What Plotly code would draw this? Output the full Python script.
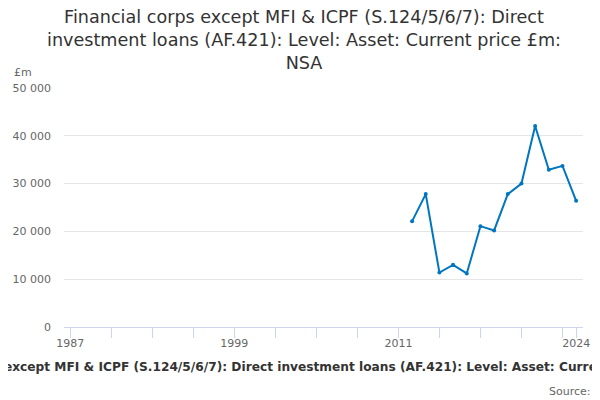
import plotly.graph_objects as go

# Annual values, £m
years = [2012, 2013, 2014, 2015, 2016, 2017, 2018, 2019, 2020, 2021, 2022, 2023, 2024]
values = [22100, 27800, 11400, 13000, 11200, 21100, 20200, 27800, 30000, 42050, 32900, 33700, 26400]

x_tick_vals = list(range(1987, 2024, 3)) + [2024]
x_tick_labels = ["1987", "1999", "2011", "2024"]
y_tick_vals = [0, 10000, 20000, 30000, 40000, 50000]

title = ("Financial corps except MFI & ICPF (S.124/5/6/7): Direct<br>"
         "investment loans (AF.421): Level: Asset: Current price £m:<br>NSA")
caption = ("Financial corps except MFI & ICPF (S.124/5/6/7): Direct investment loans "
           "(AF.421): Level: Asset: Current price £m: NSA")

FONT = "DejaVu Sans"

fig = go.Figure()
fig.add_trace(go.Scatter(
    x=years, y=values,
    mode="lines+markers",
    line=dict(color="#0076c0", width=2),
    marker=dict(color="#0076c0", size=4),
    showlegend=False,
    hoverinfo="x+y",
))

tick_text = [str(v) if str(v) in x_tick_labels else "" for v in x_tick_vals]

# page body has an 8px margin, so the figure is drawn 8px smaller
fig.update_layout(
    width=592, height=392,
    paper_bgcolor="white", plot_bgcolor="white",
    separators=". ",
    font=dict(family=FONT, color="#666666", size=11),
    title=dict(
        text=title, x=0.5, xanchor="center",
        yref="container", y=0.962, yanchor="top",
        font=dict(family=FONT, size=17.6, color="#333333"),
    ),
    margin=dict(l=56, r=17, t=80, b=73),
    xaxis=dict(
        range=[1986.55, 2024.5],
        tickmode="array", tickvals=x_tick_vals, ticktext=tick_text,
        ticks="outside", ticklen=10, tickcolor="#ccd6eb", tickwidth=1,
        ticklabelstandoff=-4,
        showline=True, linecolor="#ccd6eb", linewidth=1,
        showgrid=False, zeroline=False, automargin=False,
        tickfont=dict(family=FONT, size=11, color="#666666"),
        fixedrange=True,
    ),
    yaxis=dict(
        range=[0, 50000],
        tickmode="array", tickvals=y_tick_vals, tickformat=",",
        showgrid=True, gridcolor="#e6e6e6", gridwidth=1,
        zeroline=False, showline=False, automargin=False,
        ticks="", ticklabelstandoff=12,
        tickfont=dict(family=FONT, size=11, color="#666666"),
        fixedrange=True,
    ),
    annotations=[
        dict(text="£m", xref="paper", yref="paper", x=-0.1, y=1.063,
             xanchor="left", yanchor="middle", showarrow=False,
             font=dict(family=FONT, size=11, color="#666666")),
        dict(text="<b>" + caption + "</b>", xref="paper", yref="paper",
             x=0.4635, y=-0.167, xanchor="center", yanchor="middle", showarrow=False,
             font=dict(family=FONT, size=12.2, color="#333333")),
        dict(text="Source:", xref="paper", yref="paper", x=1.019, y=-0.268,
             xanchor="right", yanchor="middle", showarrow=False,
             font=dict(family=FONT, size=11, color="#666666")),
    ],
)

fig.write_html("out.html")
